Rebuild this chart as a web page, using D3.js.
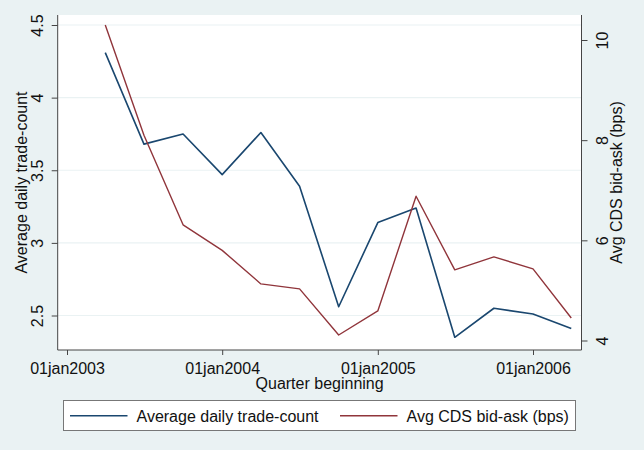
<!DOCTYPE html>
<html>
<head>
<meta charset="utf-8">
<script src="https://cdn.jsdelivr.net/npm/d3@7"></script>
<style>
html, body { margin: 0; padding: 0; background: #eaf2f3; }
svg { display: block; }
text { font-family: "Liberation Sans", Arial, sans-serif; fill: #111; }
</style>
</head>
<body>
<svg id="chart" width="644" height="450"></svg>
<script>
// ---- data ----
const quarters = ["2003-04-01","2003-07-01","2003-10-01","2004-01-01","2004-04-01","2004-07-01","2004-10-01","2005-01-01","2005-04-01","2005-07-01","2005-10-01","2006-01-01","2006-04-01"];
const tradeCount = [4.31, 3.68, 3.75, 3.47, 3.76, 3.39, 2.56, 3.14, 3.24, 2.35, 2.55, 2.51, 2.41];
const bidAsk = [10.3, 8.1, 6.31, 5.8, 5.13, 5.03, 4.11, 4.59, 6.88, 5.41, 5.67, 5.43, 4.45];
const xTicks = ["2003-01-01","2004-01-01","2005-01-01","2006-01-01"];
const xTickLabels = ["01jan2003","01jan2004","01jan2005","01jan2006"];
const leftTicks = [2.5, 3, 3.5, 4, 4.5];
const rightTicks = [4, 6, 8, 10];
const seriesNames = ["Average daily trade-count", "Avg CDS bid-ask (bps)"];
const seriesColors = ["#1a476f", "#90353b"];

// ---- layout ----
const plot = {left: 57.7, right: 581.5, top: 15, bottom: 350};
const svg = d3.select("#chart");
const parse = d3.utcParse("%Y-%m-%d");

const x = d3.scaleUtc().domain([parse("2003-01-01"), parse("2006-01-01")]).range([67, 533]);
const yL = d3.scaleLinear().domain([2.5, 4.5]).range([315.5, 25]);
const yR = d3.scaleLinear().domain([4, 10]).range([340.5, 40]);

// background
svg.append("rect").attr("width", 644).attr("height", 450).attr("fill", "#eaf2f3");
svg.append("rect")
  .attr("x", plot.left).attr("y", plot.top)
  .attr("width", plot.right - plot.left).attr("height", plot.bottom - plot.top)
  .attr("fill", "#ffffff");

// gridlines
svg.append("g").selectAll("line").data(leftTicks).join("line")
  .attr("x1", plot.left).attr("x2", plot.right)
  .attr("y1", d => yL(d)).attr("y2", d => yL(d))
  .attr("stroke", "#eaf2f3").attr("stroke-width", 1.2);

// axes
const axisColor = "#444";
function styleAxis(g) {
  g.selectAll("path.domain").remove();
  g.selectAll(".tick line").attr("stroke", axisColor).attr("stroke-width", 1);
  g.selectAll("text").attr("font-size", 16).attr("fill", "#111")
   .attr("font-family", "'Liberation Sans', Arial, sans-serif");
}

// left axis
const gL = svg.append("g").attr("transform", `translate(${plot.left},0)`)
  .call(d3.axisLeft(yL).tickValues(leftTicks).tickSize(6).tickFormat(d3.format("")));
styleAxis(gL);
gL.selectAll(".tick text").attr("transform", "rotate(-90)")
  .attr("x", 0).attr("y", -14.5).attr("dy", null).attr("text-anchor", "middle");

// right axis
const gR = svg.append("g").attr("transform", `translate(${plot.right},0)`)
  .call(d3.axisRight(yR).tickValues(rightTicks).tickSize(6).tickFormat(d3.format("")));
styleAxis(gR);
gR.selectAll(".tick text").attr("transform", "rotate(-90)")
  .attr("x", 0).attr("y", 26.5).attr("dy", null).attr("text-anchor", "middle");

// bottom axis
const gB = svg.append("g").attr("transform", `translate(0,${plot.bottom})`)
  .call(d3.axisBottom(x).tickValues(xTicks.map(parse)).tickSize(5)
    .tickFormat((d, i) => xTickLabels[i]));
styleAxis(gB);
gB.selectAll(".tick text").attr("y", 23.5).attr("dy", null);

// axis lines
const axisLines = [
  [plot.left, plot.top, plot.left, plot.bottom],
  [plot.right, plot.top, plot.right, plot.bottom],
  [plot.left, plot.bottom, plot.right, plot.bottom]
];
svg.append("g").selectAll("line").data(axisLines).join("line")
  .attr("x1", d => d[0]).attr("y1", d => d[1]).attr("x2", d => d[2]).attr("y2", d => d[3])
  .attr("stroke", axisColor).attr("stroke-width", 1);

// titles
svg.append("text").attr("transform", "translate(27.3,182.5) rotate(-90)")
  .attr("text-anchor", "middle").attr("font-size", 16).text(seriesNames[0]);
svg.append("text").attr("transform", "translate(622,182.5) rotate(-90)")
  .attr("text-anchor", "middle").attr("font-size", 16).text(seriesNames[1]);
svg.append("text").attr("x", (plot.left + plot.right) / 2).attr("y", 389)
  .attr("text-anchor", "middle").attr("font-size", 16).text("Quarter beginning");

// lines
const dates = quarters.map(parse);
const lineL = d3.line().x((d, i) => x(dates[i])).y(d => yL(d));
const lineR = d3.line().x((d, i) => x(dates[i])).y(d => yR(d));
svg.append("path").datum(tradeCount).attr("d", lineL)
  .attr("fill", "none").attr("stroke", seriesColors[0]).attr("stroke-width", 1.6)
  .attr("stroke-linejoin", "round");
svg.append("path").datum(bidAsk).attr("d", lineR)
  .attr("fill", "none").attr("stroke", seriesColors[1]).attr("stroke-width", 1.4)
  .attr("stroke-linejoin", "round");

// legend
const lg = svg.append("g");
lg.append("rect").attr("x", 63.5).attr("y", 400.5).attr("width", 512).attr("height", 30)
  .attr("fill", "#ffffff").attr("stroke", "#777").attr("stroke-width", 1);
const itemX = [70, 340];
seriesNames.forEach((name, i) => {
  lg.append("line").attr("x1", itemX[i]).attr("x2", itemX[i] + 57.5)
    .attr("y1", 415.7).attr("y2", 415.7)
    .attr("stroke", seriesColors[i]).attr("stroke-width", 1.5);
  lg.append("text").attr("x", itemX[i] + 66.5).attr("y", 421.5)
    .attr("font-size", 16).text(name);
});
</script>
</body>
</html>
